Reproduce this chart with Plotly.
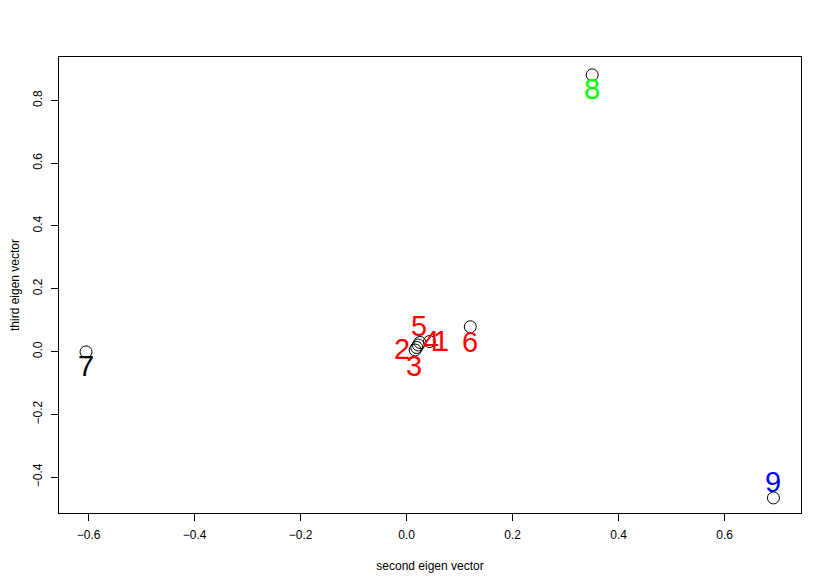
import plotly.graph_objects as go

labels = ["1", "2", "3", "4", "5", "6", "7", "8", "9"]
x_vals = [0.043, 0.019, 0.016, 0.025, 0.022, 0.120, -0.605, 0.350, 0.692]
y_vals = [0.032, 0.013, 0.005, 0.029, 0.021, 0.079, -0.001, 0.881, -0.466]
label_colors = ["#FF0000", "#FF0000", "#FF0000", "#FF0000", "#FF0000", "#FF0000",
                "#000000", "#00FF00", "#0000FF"]
# label offsets in pixels (dx, dy) relative to each point
label_dx = [12, -15, -1, 11, 1, 0, 0, 0, 0]
label_dy = [1, -1, -16, 1, 19, -15, -14, -14, 16]

fig = go.Figure()
fig.add_trace(go.Scatter(
    x=x_vals, y=y_vals, mode="markers",
    marker=dict(symbol="circle-open", size=12, color="black", line=dict(width=1)),
    showlegend=False, hoverinfo="skip"))

for lab, x, y, c, dx, dy in zip(labels, x_vals, y_vals, label_colors, label_dx, label_dy):
    fig.add_annotation(x=x, y=y, text=lab, showarrow=False, xshift=dx, yshift=dy,
                       font=dict(family="Liberation Sans, Arial", size=29, color=c))

axis_common = dict(showgrid=False, zeroline=False, showline=True, mirror=True,
                   linecolor="black", linewidth=1, ticks="outside", ticklen=7,
                   tickcolor="black", automargin=False, ticklabelstandoff=4,
                   tickfont=dict(family="Liberation Sans, Arial", size=12, color="black"))

fig.update_xaxes(range=[-0.656, 0.744], tickvals=[-0.6, -0.4, -0.2, 0.0, 0.2, 0.4, 0.6],
                 ticktext=["\u22120.6", "\u22120.4", "\u22120.2", "0.0", "0.2", "0.4", "0.6"],
                 title=dict(text="second eigen vector", standoff=20,
                            font=dict(family="Liberation Sans, Arial", size=12, color="black")),
                 **axis_common)
fig.update_yaxes(range=[-0.514, 0.938], tickvals=[-0.4, -0.2, 0.0, 0.2, 0.4, 0.6, 0.8],
                 ticktext=["\u22120.4", "\u22120.2", "0.0", "0.2", "0.4", "0.6", "0.8"],
                 tickangle=-90,
                 title=dict(text="third eigen vector", standoff=18,
                            font=dict(family="Liberation Sans, Arial", size=12, color="black")),
                 **axis_common)

fig.update_layout(width=830, height=588, margin=dict(l=51, r=37, t=49, b=83),
                  plot_bgcolor="white", paper_bgcolor="white")
fig.write_html("out.html")
